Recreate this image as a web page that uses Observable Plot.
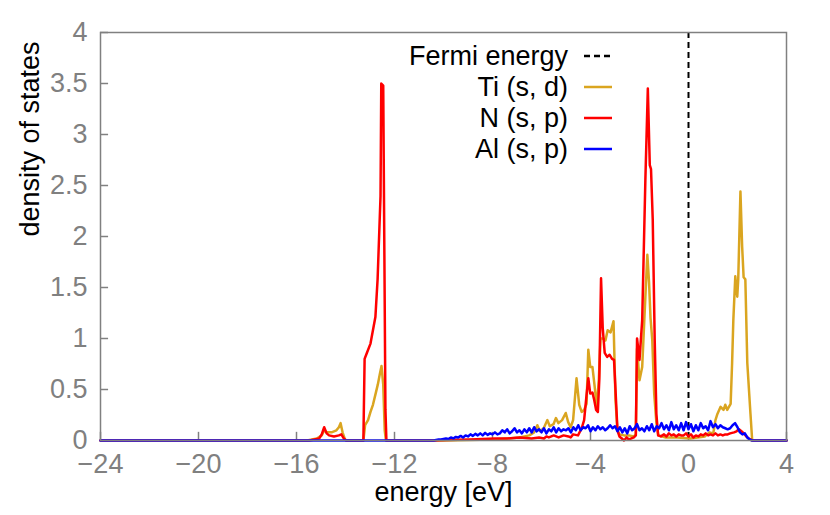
<!DOCTYPE html>
<html>
<head>
<meta charset="utf-8">
<script src="https://cdn.jsdelivr.net/npm/d3@7"></script>
<script src="https://cdn.jsdelivr.net/npm/@observablehq/plot@0.6"></script>
<style>
  html, body { margin: 0; padding: 0; background: white; }
  #chart { width: 830px; height: 515px; }
</style>
</head>
<body>
<div id="chart"></div>
<script>
// ---- data ----
const xTicks = [-24, -20, -16, -12, -8, -4, 0, 4];
const yTicks = [0, 0.5, 1, 1.5, 2, 2.5, 3, 3.5, 4];
const fermiEnergy = 0;
const seriesNames = ["Fermi energy", "Ti (s, d)", "N (s, p)", "Al (s, p)"];

const tiE = [-24, -15.57, -15.37, -15.17, -14.97, -14.87, -14.77, -14.57, -14.37, -14.27, -14.2, -14.12, -14.02, -13.97,
  -13.27, -13.2, -13.08, -12.98, -12.88, -12.78, -12.68, -12.6, -12.53, -12.46, -12.4, -12.35,
  -10, -9, -8, -7.4, -6.9, -6.5, -6.3, -6.17, -6.06, -5.91, -5.76, -5.66, -5.51, -5.41, -5.31, -5.16, -5.01, -4.91, -4.81, -4.71,
  -4.57, -4.46, -4.36, -4.26, -4.16, -4.09, -4.01, -3.92, -3.84, -3.74, -3.66, -3.59, -3.49, -3.39, -3.3, -3.18, -3.06, -2.98, -2.9, -2.82,
  -2.63, -2.43, -2.23, -2.15, -2.1, -2.0, -1.89, -1.76, -1.68, -1.61, -1.55, -1.48, -1.4, -1.31, -1.23, -0.93, -0.43, 0.07, 0.37, 0.66, 0.86,
  1.01, 1.1, 1.18, 1.31, 1.43, 1.5, 1.58, 1.72, 1.78, 1.83, 1.91, 1.99, 2.03, 2.12, 2.19, 2.25, 2.32, 2.4, 2.53, 2.6, 4];
const tiDos = [0, 0, 0.01, 0.02, 0.05, 0.1, 0.08, 0.08, 0.1, 0.13, 0.17, 0.08, 0.01, 0,
  0, 0.15, 0.2, 0.28, 0.35, 0.45, 0.55, 0.65, 0.73, 0.55, 0.1, 0,
  0, 0.005, 0.01, 0.02, 0.03, 0.05, 0.08, 0.15, 0.09, 0.12, 0.2, 0.14, 0.16, 0.22, 0.17, 0.2, 0.27, 0.18, 0.13, 0.2,
  0.61, 0.35, 0.28, 0.3, 0.36, 0.89, 0.72, 0.72, 0.55, 0.33, 0.6, 1.0, 1.0, 0.98, 1.08, 1.06, 1.17, 0.4, 0.1, 0.06,
  0.05, 0.05, 0.04, 0.06, 0.9, 0.59, 0.72, 1.41, 1.82, 1.55, 1.2, 0.99, 0.46, 0.17, 0.05, 0.03, 0.03, 0.02, 0.03, 0.04, 0.08,
  0.07, 0.2, 0.26, 0.33, 0.3, 0.35, 0.3, 0.36, 0.76, 1.18, 1.61, 1.41, 1.58, 2.44, 1.9, 1.6, 1.58, 0.76, 0.26, 0, 0];

const nE = [-24, -15.47, -15.27, -15.07, -14.97, -14.87, -14.77, -14.67, -14.47, -14.27, -14.17, -14.07, -13.97,
  -13.27, -13.22, -13.14, -12.98, -12.78, -12.69, -12.57, -12.54, -12.46, -12.37, -12.33,
  -10.4, -9.89, -8.9, -7.9, -7.4, -6.9, -6.4, -6.1, -5.9, -5.8, -5.7, -5.5, -5.3, -5.1, -4.9, -4.81, -4.71, -4.51,
  -4.36, -4.26, -4.16, -4.09, -4.01, -3.92, -3.85, -3.77, -3.7, -3.64, -3.57, -3.5, -3.42, -3.32, -3.22, -3.12, -3.04, -2.98, -2.9, -2.82,
  -2.72, -2.63, -2.53, -2.43, -2.33, -2.23, -2.15, -2.1, -2.0, -1.89, -1.76, -1.66, -1.58, -1.53, -1.46, -1.38, -1.31, -1.24, -1.13,
  -1.0, -0.9, -0.8, -0.7, -0.6, -0.5, -0.4, -0.3, -0.2, -0.1, 0, 0.1, 0.2, 0.3, 0.4, 0.5, 0.6, 0.7, 0.8, 0.9, 1.0, 1.1, 1.2, 1.3, 1.4, 1.5,
  1.6, 1.7, 1.86, 1.96, 2.06, 2.16, 2.26, 2.36, 2.46, 2.56, 2.66, 4];
const nDos = [0, 0, 0.01, 0.02, 0.06, 0.13, 0.07, 0.05, 0.04, 0.05, 0.06, 0.02, 0,
  0, 0.8, 0.85, 0.95, 1.21, 1.58, 2.4, 3.5, 3.48, 0.3, 0,
  0, 0.005, 0.01, 0.02, 0.02, 0.03, 0.02, 0.03, 0.02, 0.04, 0.03, 0.05, 0.03, 0.05, 0.04, 0.03, 0.06, 0.05,
  0.12, 0.2, 0.45, 0.61, 0.46, 0.47, 0.4, 0.3, 0.28, 0.6, 1.59, 1.1, 0.86, 0.82, 0.84, 0.8, 0.79, 0.5, 0.1, 0.04,
  0.02, 0, 0.03, 0.01, 0.02, 0.03, 0.05, 1.0, 0.79, 1.18, 2.56, 3.45, 2.7, 2.66, 2.17, 0.99, 0.26, 0.05, 0.04,
  0.06, 0.04, 0.07, 0.05, 0.06, 0.04, 0.06, 0.05, 0.05, 0.07, 0.04, 0.06, 0.03, 0.05, 0.04, 0.06, 0.05, 0.07, 0.05, 0.06, 0.05, 0.07, 0.05, 0.06, 0.05, 0.06,
  0.06, 0.07, 0.08, 0.09, 0.11, 0.09, 0.07, 0.04, 0.02, 0.005, 0, 0];

const alE = [-24, -10.4, -10.3, -10.2, -10.1, -10.0, -9.9, -9.8, -9.7, -9.6, -9.5, -9.4, -9.3, -9.2, -9.1, -9.0,
  -8.9, -8.8, -8.7, -8.6, -8.5, -8.4, -8.3, -8.2, -8.1, -8.0, -7.9, -7.8, -7.7, -7.6, -7.5, -7.4, -7.3, -7.2, -7.1, -7.0,
  -6.9, -6.8, -6.7, -6.6, -6.5, -6.4, -6.3, -6.2, -6.1, -6.0, -5.9, -5.8, -5.7, -5.6, -5.5, -5.4, -5.3, -5.2, -5.1, -5.0,
  -4.9, -4.8, -4.7, -4.6, -4.5, -4.4, -4.3, -4.2, -4.1, -4.0, -3.9, -3.8, -3.7, -3.6, -3.5, -3.4, -3.3, -3.2, -3.1, -3.0,
  -2.9, -2.8, -2.7, -2.6, -2.5, -2.4, -2.3, -2.2, -2.1, -2.0, -1.9, -1.8, -1.7, -1.6, -1.5, -1.4, -1.3, -1.2, -1.1, -1.0,
  -0.9, -0.8, -0.7, -0.6, -0.5, -0.4, -0.3, -0.2, -0.1, 0.0, 0.1, 0.2, 0.3, 0.4, 0.5, 0.6, 0.7, 0.8, 0.9, 1.0,
  1.1, 1.2, 1.3, 1.4, 1.5, 1.6, 1.7, 1.8, 1.9, 2.0, 2.1, 2.2, 2.3, 2.4, 2.5, 2.6, 2.7, 4];
const alDos = [0, 0, 0.005, 0.01, 0.01, 0.015, 0.02, 0.015, 0.03, 0.02, 0.035, 0.03, 0.045, 0.03, 0.05, 0.04,
  0.06, 0.045, 0.065, 0.05, 0.07, 0.05, 0.075, 0.055, 0.07, 0.06, 0.08, 0.06, 0.07, 0.1, 0.08, 0.11, 0.07, 0.09, 0.12, 0.08,
  0.1, 0.07, 0.11, 0.08, 0.12, 0.08, 0.13, 0.09, 0.11, 0.08, 0.12, 0.07, 0.11, 0.09, 0.13, 0.08, 0.12, 0.09, 0.11, 0.1,
  0.12, 0.08, 0.13, 0.1, 0.15, 0.1, 0.13, 0.12, 0.15, 0.09, 0.13, 0.1, 0.14, 0.11, 0.13, 0.1, 0.12, 0.15, 0.12, 0.14,
  0.09, 0.13, 0.08, 0.12, 0.07, 0.14, 0.1, 0.12, 0.16, 0.1, 0.12, 0.09, 0.14, 0.1, 0.16, 0.09, 0.14, 0.12, 0.17, 0.11,
  0.15, 0.1, 0.18, 0.11, 0.15, 0.1, 0.17, 0.1, 0.18, 0.11, 0.16, 0.09, 0.15, 0.1, 0.17, 0.12, 0.14, 0.1, 0.19, 0.13,
  0.16, 0.12, 0.15, 0.13, 0.12, 0.11, 0.12, 0.15, 0.17, 0.13, 0.08, 0.06, 0.07, 0.03, 0.01, 0, 0, 0];

const colors = {ti: "#DAA520", n: "#FF0000", al: "#0000FF"};
// ---- build tables ----
const ti = tiE.map((e, i) => ({e, d: tiDos[i]}));
const nn = nE.map((e, i) => ({e, d: nDos[i]}));
const al = alE.map((e, i) => ({e, d: alDos[i]}));

const gray = "#808080";
const fmtX = d => d < 0 ? "\u2212" + (-d) : String(d);
const FS = 27;

const chart = Plot.plot({
  width: 830, height: 515,
  marginLeft: 100, marginRight: 44, marginTop: 32, marginBottom: 75,
  x: {domain: [-24, 4]},
  y: {domain: [0, 4]},
  style: {fontFamily: "'Liberation Sans', Arial, sans-serif", fontSize: FS + "px", background: "white", overflow: "visible"},
  marks: [
    Plot.axisX({ticks: xTicks, tickSize: 0, tickPadding: 13, tickFormat: fmtX, color: gray, label: null, fontSize: FS}),
    Plot.axisY({ticks: yTicks, tickSize: 0, tickPadding: 13, tickFormat: d => String(d), color: gray, label: null, fontSize: FS}),
    Plot.ruleX(xTicks, {x: d => d, y1: 0, y2: 0.08, stroke: gray, strokeWidth: 1.5}),
    Plot.ruleY(yTicks, {y: d => d, x1: -24, x2: -23.67, stroke: gray, strokeWidth: 1.5}),
    Plot.ruleX([fermiEnergy], {x: d => d, stroke: "black", strokeWidth: 2, strokeDasharray: "6,4"}),
    Plot.line(ti, {x: "e", y: "d", stroke: colors.ti, strokeWidth: 2.5}),
    Plot.line(nn, {x: "e", y: "d", stroke: colors.n, strokeWidth: 2.5}),
    Plot.line(al, {x: "e", y: "d", stroke: colors.al, strokeWidth: 2.5}),
    Plot.frame({stroke: gray, strokeWidth: 1.5}),
    Plot.text(["energy [eV]"], {text: d => d, frameAnchor: "bottom", dy: 60, fill: "black", fontSize: FS}),
    Plot.text(["density of states"], {text: d => d, frameAnchor: "left", dx: -70, rotate: -90, fill: "black", fontSize: FS})
  ]
});
document.getElementById("chart").appendChild(chart);

// ---- in-plot legend (top right, gnuplot style) ----
const svg = d3.select(chart);
const leg = svg.append("g")
  .attr("font-family", "'Liberation Sans', Arial, sans-serif")
  .attr("font-size", FS);
const legendItems = [
  {name: seriesNames[0], color: "black", dash: "6,4"},
  {name: seriesNames[1], color: colors.ti, dash: null},
  {name: seriesNames[2], color: colors.n, dash: null},
  {name: seriesNames[3], color: colors.al, dash: null}
];
legendItems.forEach((it, i) => {
  const y = 56 + i * 31;
  leg.append("text").attr("x", 568).attr("y", y).attr("text-anchor", "end")
    .attr("dy", "0.35em").attr("fill", "black").text(it.name);
  const ln = leg.append("line").attr("x1", 584).attr("x2", 612).attr("y1", y).attr("y2", y)
    .attr("stroke", it.color).attr("stroke-width", 2.5);
  if (it.dash) ln.attr("stroke-dasharray", it.dash);
});
</script>
</body>
</html>
